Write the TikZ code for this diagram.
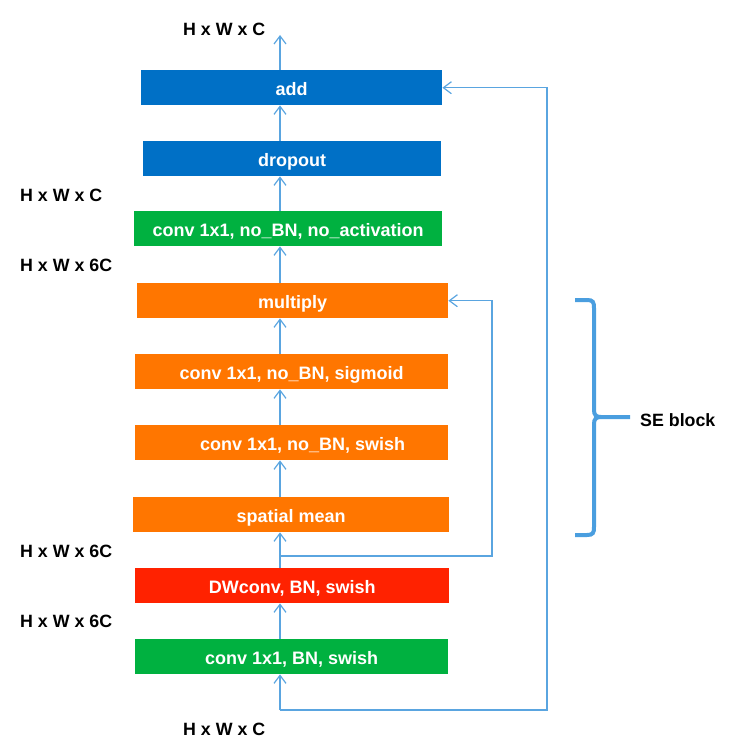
\documentclass[tikz,border=0pt]{standalone}
\usepackage{fontspec}
\setmainfont{Liberation Sans}
\usetikzlibrary{arrows.meta}
\definecolor{addblue}{HTML}{0070C6}
\definecolor{grn}{HTML}{00B140}
\definecolor{org}{HTML}{FF7600}
\definecolor{rdd}{HTML}{FF2200}
\definecolor{lnb}{HTML}{5AA5E0}
\definecolor{brb}{HTML}{4A9EDF}
\begin{document}
\begin{tikzpicture}[x=1pt,y=-1pt,
  box/.style={minimum height=35pt, inner sep=0pt, text height=16pt, text depth=0pt, font=\fontsize{18}{20}\selectfont\bfseries, text=white, anchor=north west},
  lbl/.style={font=\fontsize{17.8}{20}\selectfont\bfseries, anchor=west, inner sep=0pt},
  conn/.style={draw=lnb, line width=1.2pt, -{Straight Barb[length=8pt,width=12pt]}},
  brace/.style={draw=brb, line width=4pt}]
\useasboundingbox (0,0) rectangle (738,746);
\coordinate (axis) at (280,0);

\node[box, fill=addblue, minimum width=301pt] (add) at (141,70) {add};
\node[box, fill=addblue, minimum width=298pt] (drop) at (143,141) {dropout};
\node[box, fill=grn, minimum width=308pt] (proj) at (134,211) {conv 1x1, no\_BN, no\_activation};
\node[box, fill=org, minimum width=311pt] (mul) at (137,283) {multiply};
\node[box, fill=org, minimum width=313pt] (sig) at (135,354) {conv 1x1, no\_BN, sigmoid};
\node[box, fill=org, minimum width=313pt] (sw) at (135,425) {\hspace*{22pt}conv 1x1, no\_BN, swish};
\node[box, fill=org, minimum width=316pt] (sm) at (133,497) {spatial mean};
\node[box, fill=rdd, minimum width=314pt] (dw) at (135,568) {DWconv, BN, swish};
\node[box, fill=grn, minimum width=313pt] (exp) at (135,639) {conv 1x1, BN, swish};

\node[lbl] (tout) at (183,29) {H x W x C};
\node[lbl] (t1) at (20,195) {H x W x C};
\node[lbl] (t2) at (20,265) {H x W x 6C};
\node[lbl] (t3) at (20,551) {H x W x 6C};
\node[lbl] (t4) at (20,621) {H x W x 6C};
\node[lbl] (tin) at (183,729) {H x W x C};
\node[lbl] (se) at (640,420) {SE block};

\coordinate (in) at (280,710);
\coordinate (rc) at (547,710);
\coordinate (sp) at (280,556);
\coordinate (sc) at (492,556);
\coordinate (out) at (280,35);

\draw[conn] (in) -- (exp.south -| axis);
\draw[conn] (exp.north -| axis) -- (dw.south -| axis);
\draw[conn] (dw.north -| axis) -- (sm.south -| axis);
\draw[conn] (sm.north -| axis) -- (sw.south -| axis);
\draw[conn] (sw.north -| axis) -- (sig.south -| axis);
\draw[conn] (sig.north -| axis) -- (mul.south -| axis);
\draw[conn] (mul.north -| axis) -- (proj.south -| axis);
\draw[conn] (proj.north -| axis) -- (drop.south -| axis);
\draw[conn] (drop.north -| axis) -- (add.south -| axis);
\draw[conn] (add.north -| axis) -- (out);
\draw[conn] (in) -- (rc) |- (add.east);
\draw[conn] (sp) -- (sc) |- (mul.east);

\draw[brace] (575,300) -- (587,300) .. controls (593,300) and (594,302) .. (594,308) -- (594,410) .. controls (594,415) and (596,417) .. (601,417) -- (630,417);
\draw[brace] (601,417) .. controls (596,417) and (594,419) .. (594,424) -- (594,527) .. controls (594,533) and (593,535) .. (587,535) -- (575,535);
\end{tikzpicture}
\end{document}
